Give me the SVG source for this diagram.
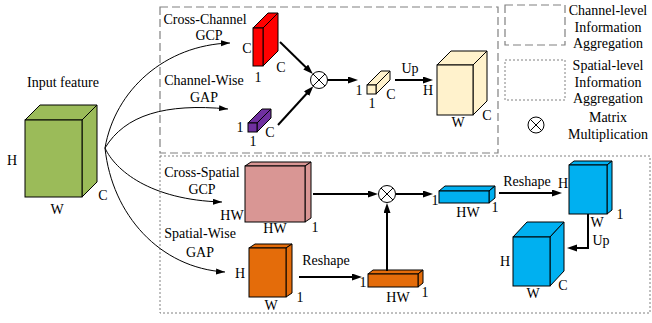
<svg xmlns="http://www.w3.org/2000/svg" width="652" height="323" viewBox="0 0 652 323">
  <style>
    text { font-family: "Liberation Serif", "Times New Roman", serif; font-size: 14px; fill: #000; }
    .m { text-anchor: middle; }
    .face { stroke: #000; stroke-width: 1; stroke-linejoin: miter; }
    .green { fill: #9BBB59; }
    .red { fill: #FF0000; }
    .purple { fill: #7030A0; }
    .cream { fill: #FFF2CC; }
    .pink { fill: #D99694; }
    .orange { fill: #E46C0A; }
    .blue { fill: #00B0F0; }
    .region-ch { fill: none; stroke: #808080; stroke-width: 1.2; stroke-dasharray: 8 4; }
    .region-sp { fill: none; stroke: #808080; stroke-width: 1; stroke-dasharray: 2 2; }
    .bold { fill: none; stroke: #000; stroke-width: 2; marker-end: url(#headBold); }
    .curve { fill: none; stroke: #000; stroke-width: 1; marker-end: url(#headThin); }
    .otimes circle { fill: #fff; stroke: #000; stroke-width: 1; }
    .otimes path { stroke: #000; stroke-width: 1; fill: none; }
  </style>
  <defs>
    <marker id="headBold" markerUnits="userSpaceOnUse" markerWidth="10" markerHeight="8" refX="3" refY="3.5" orient="auto">
      <path d="M0,0 L10,3.5 L0,7 z" fill="#000"/>
    </marker>
    <marker id="headThin" markerUnits="userSpaceOnUse" markerWidth="10" markerHeight="7" refX="9" refY="3" orient="auto">
      <path d="M0,0 L9,3 L0,6 z" fill="#000"/>
    </marker>
  </defs>

  <!-- region frames -->
  <rect class="region-ch" x="160" y="7" width="338" height="146"/>
  <rect class="region-sp" x="160" y="156" width="490" height="157"/>

  <!-- input tensor -->
  <g id="input">
    <polygon class="face green" points="25,120 40,105 97,105 82,120"/>
    <polygon class="face green" points="82,120 97,105 97,182 82,197"/>
    <rect class="face green" x="25" y="120" width="57" height="77"/>
    <text class="m" x="63" y="87">Input feature</text>
    <text class="m" x="12" y="165">H</text>
    <text class="m" x="57" y="214">W</text>
    <text class="m" x="103" y="200">C</text>
  </g>

  <!-- channel branch -->
  <g id="cross-channel-gcp">
    <text class="m" x="205" y="24">Cross-Channel</text>
    <text class="m" x="209" y="40">GCP</text>
    <polygon class="face red" points="253,28 268,13 278,13 263,28"/>
    <polygon class="face red" points="263,28 278,13 278,51 263,66"/>
    <rect class="face red" x="253" y="28" width="10" height="38"/>
    <text class="m" x="247" y="53">C</text>
    <text class="m" x="258" y="82">1</text>
    <text class="m" x="281" y="72">C</text>
  </g>
  <g id="channel-wise-gap">
    <text class="m" x="204" y="85">Channel-Wise</text>
    <text class="m" x="204" y="102">GAP</text>
    <polygon class="face purple" points="248,123 262,109 271,109 257,123"/>
    <polygon class="face purple" points="257,123 271,109 271,118 257,132"/>
    <rect class="face purple" x="248" y="123" width="9" height="9"/>
    <text class="m" x="240" y="132">1</text>
    <text class="m" x="270" y="137">C</text>
    <text class="m" x="253" y="146">1</text>
  </g>
  <g id="mul-channel" class="otimes">
    <circle cx="319" cy="80" r="8.5"/>
    <path d="M313,74 L325,86 M325,74 L313,86"/>
  </g>
  <g id="channel-vector">
    <polygon class="face cream" points="367,85 381,71 390,71 376,85"/>
    <polygon class="face cream" points="376,85 390,71 390,80 376,94"/>
    <rect class="face cream" x="367" y="85" width="9" height="9"/>
    <text class="m" x="359" y="95">1</text>
    <text class="m" x="391" y="99">C</text>
    <text class="m" x="372" y="108">1</text>
  </g>
  <g id="channel-output">
    <polygon class="face cream" points="437,65 451,51 487,51 473,65"/>
    <polygon class="face cream" points="473,65 487,51 487,101 473,115"/>
    <rect class="face cream" x="437" y="65" width="36" height="50"/>
    <text class="m" x="428" y="95">H</text>
    <text class="m" x="458" y="127">W</text>
    <text class="m" x="487" y="120">C</text>
  </g>

  <!-- spatial branch -->
  <g id="cross-spatial-gcp">
    <text class="m" x="202" y="177">Cross-Spatial</text>
    <text class="m" x="202" y="194">GCP</text>
    <polygon class="face pink" points="245,166 251,162 311,162 305,166"/>
    <polygon class="face pink" points="305,166 311,162 311,218 305,222"/>
    <rect class="face pink" x="245" y="166" width="60" height="56"/>
    <text class="m" x="232" y="220">HW</text>
    <text class="m" x="275" y="233">HW</text>
    <text class="m" x="315" y="232">1</text>
  </g>
  <g id="spatial-wise-gap">
    <text class="m" x="200" y="238">Spatial-Wise</text>
    <text class="m" x="200" y="257">GAP</text>
    <polygon class="face orange" points="249,248 255,244 292,244 286,248"/>
    <polygon class="face orange" points="286,248 292,244 292,293 286,297"/>
    <rect class="face orange" x="249" y="248" width="37" height="49"/>
    <text class="m" x="240" y="278">H</text>
    <text class="m" x="271" y="310">W</text>
    <text class="m" x="300" y="302">1</text>
  </g>
  <g id="spatial-vector">
    <polygon class="face orange" points="368,274 373,270 423,270 418,274"/>
    <polygon class="face orange" points="418,274 423,270 423,283 418,287"/>
    <rect class="face orange" x="368" y="274" width="50" height="13"/>
    <text class="m" x="363" y="287">1</text>
    <text class="m" x="398" y="302">HW</text>
    <text class="m" x="425" y="297">1</text>
  </g>
  <g id="mul-spatial" class="otimes">
    <circle cx="387" cy="194" r="8.5"/>
    <path d="M381,188 L393,200 M393,188 L381,200"/>
  </g>
  <g id="spatial-weights">
    <polygon class="face blue" points="439,191 445,186 495,186 489,191"/>
    <polygon class="face blue" points="489,191 495,186 495,198 489,203"/>
    <rect class="face blue" x="439" y="191" width="50" height="12"/>
    <text class="m" x="435" y="205">1</text>
    <text class="m" x="468" y="217">HW</text>
    <text class="m" x="495" y="212">1</text>
  </g>
  <g id="spatial-map">
    <polygon class="face blue" points="569,165 574,161 612,161 607,165"/>
    <polygon class="face blue" points="607,165 612,161 612,210 607,214"/>
    <rect class="face blue" x="569" y="165" width="38" height="49"/>
    <text class="m" x="563" y="188">H</text>
    <text class="m" x="597" y="227">W</text>
    <text class="m" x="620" y="219">1</text>
  </g>
  <g id="spatial-output">
    <polygon class="face blue" points="513,237 527,222 564,222 550,237"/>
    <polygon class="face blue" points="550,237 564,222 564,271 550,286"/>
    <rect class="face blue" x="513" y="237" width="37" height="49"/>
    <text class="m" x="505" y="266">H</text>
    <text class="m" x="533" y="298">W</text>
    <text class="m" x="563" y="290">C</text>
  </g>

  <!-- legend -->
  <g id="legend">
    <rect class="region-ch" x="505" y="5" width="60" height="40"/>
    <rect class="region-sp" x="505" y="60" width="60" height="40"/>
    <g class="otimes">
      <circle cx="536" cy="125" r="8"/>
      <path d="M530.3,119.3 L541.7,130.7 M541.7,119.3 L530.3,130.7"/>
    </g>
    <text class="m" x="608" y="15">Channel-level</text>
    <text class="m" x="608" y="32">Information</text>
    <text class="m" x="608" y="48">Aggregation</text>
    <text class="m" x="608" y="70">Spatial-level</text>
    <text class="m" x="608" y="87">Information</text>
    <text class="m" x="608" y="103">Aggregation</text>
    <text class="m" x="608" y="122">Matrix</text>
    <text class="m" x="608" y="139">Multiplication</text>
  </g>

  <!-- connectors -->
  <g id="connectors">
    <path class="curve" d="M105,148 C115,90 165,45 230,43"/>
    <path class="curve" d="M105,148 C125,115 165,103 228,109"/>
    <path class="curve" d="M105,148 C115,170 150,200 222,202"/>
    <path class="curve" d="M105,148 C112,215 160,268 225,272"/>

    <line class="bold" x1="280" y1="42" x2="307.9" y2="69.2"/>
    <line class="bold" x1="278" y1="125" x2="308.6" y2="91.5"/>
    <line class="bold" x1="328" y1="80" x2="351" y2="80"/>
    <line class="bold" x1="395" y1="80" x2="426" y2="80"/>
    <text class="m" x="410" y="73">Up</text>

    <line class="bold" x1="313" y1="194" x2="371" y2="194"/>
    <line class="bold" x1="396" y1="194" x2="426" y2="194"/>
    <line class="bold" x1="387" y1="271" x2="387" y2="210"/>
    <line class="bold" x1="299" y1="277" x2="355" y2="277"/>
    <text class="m" x="326" y="265">Reshape</text>
    <line class="bold" x1="499" y1="193" x2="555" y2="193"/>
    <text class="m" x="527" y="186">Reshape</text>
    <polyline class="bold" points="588,214 588,248 574,248"/>
    <text class="m" x="601" y="245">Up</text>
  </g>
</svg>
